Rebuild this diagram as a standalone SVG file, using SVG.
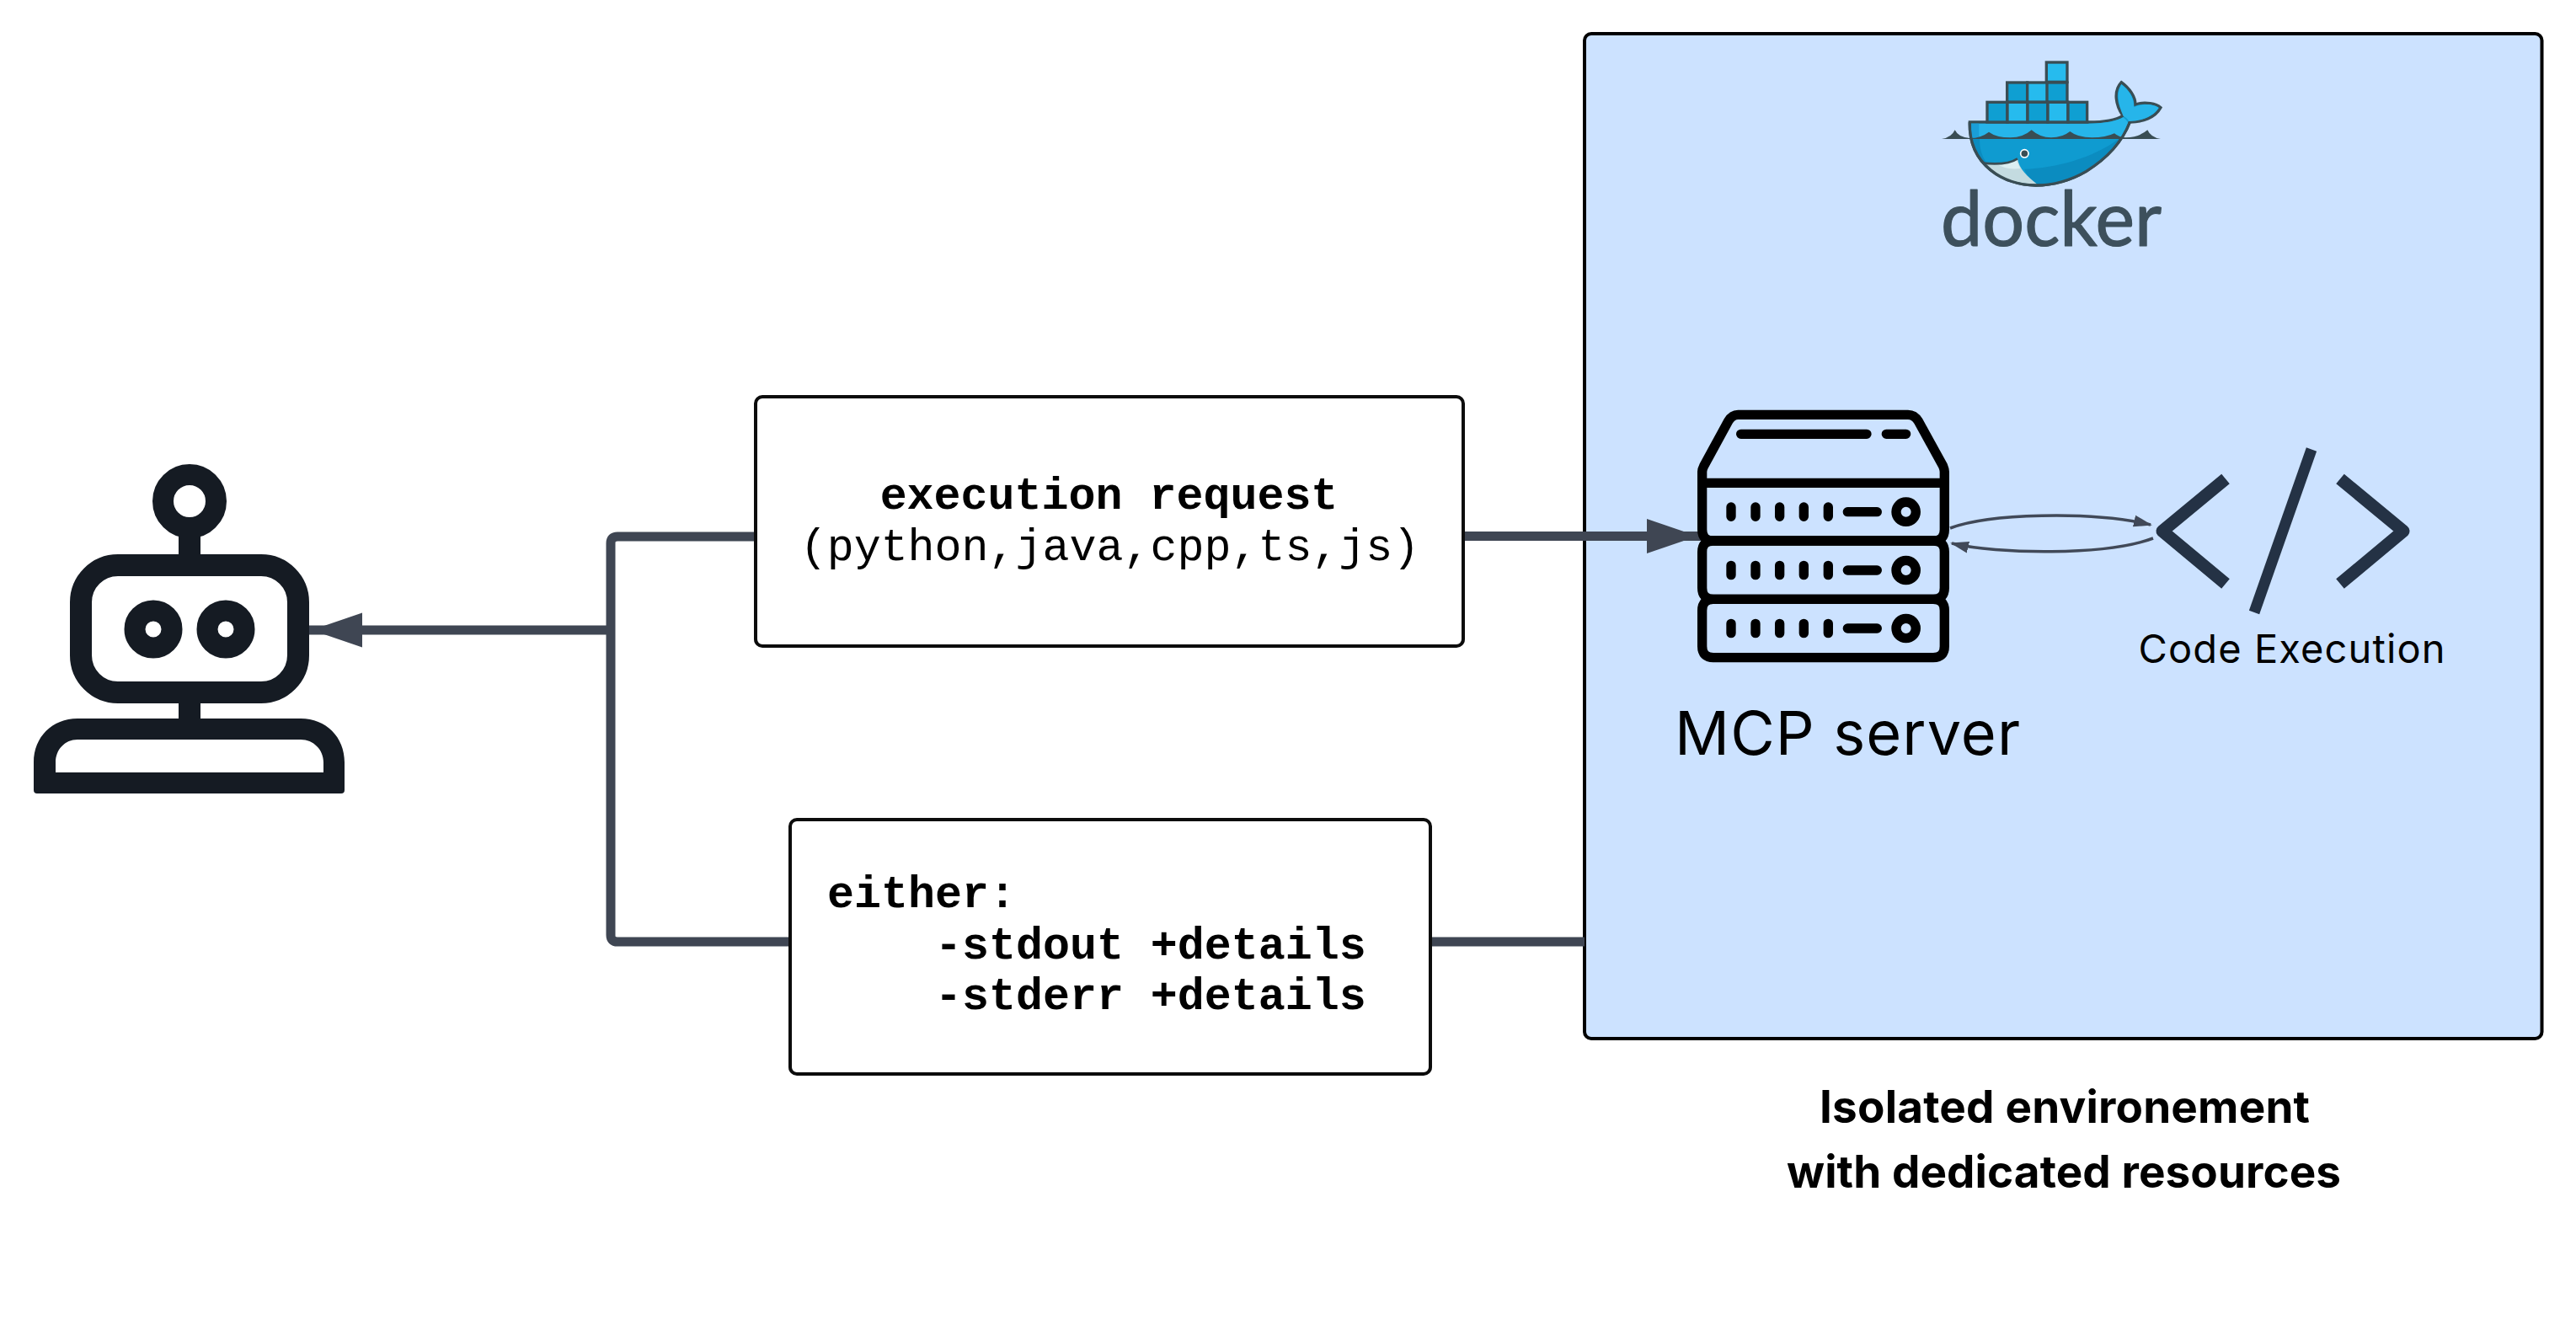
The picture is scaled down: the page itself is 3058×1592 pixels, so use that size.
<svg xmlns="http://www.w3.org/2000/svg" xmlns:xlink="http://www.w3.org/1999/xlink" width="3058" height="1592" viewBox="0 0 3058 1592">
<style>
.box{fill:#fff;stroke:#0c0c0c;stroke-width:4}
.mono{font-family:"Liberation Mono",monospace;font-size:53.300px;fill:#000;white-space:pre}
.b{font-weight:700}
.sans{font-family:Inter,"Liberation Sans",sans-serif;fill:#000}
.wire{fill:none;stroke:#3f4653;stroke-width:11}
.thin{fill:none;stroke:#414958;stroke-width:3.500}
.rb{fill:none;stroke:#151b23}
.sv{fill:none;stroke:#000;stroke-width:34;stroke-linecap:round;stroke-linejoin:round}
.code{fill:none;stroke:#243245;stroke-width:15}
.cell{stroke:#394d54;stroke-width:10}
.c1{fill:#0f9fd2}
.c2{fill:#26bbee}
</style>
<defs>
<marker id="big" markerUnits="userSpaceOnUse" markerWidth="70" markerHeight="44" refX="64" refY="21" orient="auto"><path d="M0 0.500L60 21L0 41.500Z" fill="#3f4653"/></marker>
<marker id="small" markerUnits="userSpaceOnUse" markerWidth="24" markerHeight="16" refX="20" refY="7.500" orient="auto"><path d="M0 0.500L22 7.500L0 14.500Z" fill="#414958"/></marker>
<g id="row">
<path d="M225 -17V17M312 -17V17M398 -17V17M484 -17V17M571 -17V17M640 0H745"/>
<circle cx="848" cy="0" r="35"/>
</g>
</defs>
<rect width="3058" height="1592" fill="#fff"/>

<g id="container"><rect x="1881" y="40" width="1136.500" height="1193" rx="8" fill="#cce2ff" stroke="#000" stroke-width="4"/></g>

<g id="connectors">
<path class="wire" d="M897 637H733Q725 637 725 645V1110Q725 1118 733 1118H938"/>
<path class="wire" d="M725 748H366" marker-end="url(#big)"/>
<path class="wire" d="M1737 636.500H2019" marker-end="url(#big)"/>
<path class="wire" d="M1698 1118H1881"/>
<path class="thin" d="M2315 627C2360 610 2480 606 2553 623" marker-end="url(#small)"/>
<path class="thin" d="M2556 639C2500 660 2370 658 2317 645" marker-end="url(#small)"/>
</g>

<g id="robot">
<circle class="rb" cx="225" cy="595" r="31.500" stroke-width="25"/>
<path class="rb" d="M225 630V665M225 830V860" stroke-width="26"/>
<rect class="rb" x="96" y="671" width="258" height="151" rx="44" stroke-width="26"/>
<circle class="rb" cx="182" cy="747" r="22" stroke-width="25"/>
<circle class="rb" cx="268" cy="747" r="22" stroke-width="25"/>
<path d="M40 938V905C40 875 62 853 92 853H357C387 853 409 875 409 905V938Q409 942 405 942H44Q40 942 40 938ZM66 917H384V905C384 890 372 878 357 878H92C77 878 66 890 66 905Z" fill="#151b23" fill-rule="evenodd"/>
</g>

<g id="request">
<rect class="box" x="897" y="471" width="840" height="296" rx="8"/>
<text class="mono b" x="1316.500" y="604" text-anchor="middle">execution request</text>
<text class="mono" x="1317.500" y="665" text-anchor="middle">(python,java,cpp,ts,js)</text>
</g>

<g id="response">
<rect class="box" x="938" y="973" width="760" height="302" rx="8"/>
<text class="mono b" x="982" y="1077">either:</text>
<text class="mono b" x="1110" y="1138">-stdout +details</text>
<text class="mono b" x="1110" y="1198">-stderr +details</text>
</g>

<g id="docker">
<g transform="translate(2270 50) scale(.3333)">
<path d="M205 285H628C690 285 730 275 750 262C725 225 715 175 745 143C775 165 795 195 795 222C830 210 870 220 885 233C865 270 820 285 775 285C750 350 700 410 620 460C560 495 500 510 440 510C330 510 200 440 205 285Z" fill="#0f9bd0" stroke="#394d54" stroke-width="10"/>
<path d="M210 290H628C690 290 730 280 752 268C765 280 770 285 768 290C760 310 750 330 742 345H212Z" fill="#26b5ea"/>
<path d="M210 290H238V345H212Z" fill="#1a9ed8"/>
<path d="M752 264C735 225 725 185 745 150C770 170 790 195 790 232C825 215 865 222 878 234C860 265 815 282 772 282C765 270 760 268 752 264Z" fill="#26b5ea"/>
<path d="M400 452C510 450 650 410 735 345C720 385 680 425 620 458C560 492 500 506 445 506C420 490 405 470 400 452Z" fill="#0b8cc0"/>
<path d="M212 345H240C240 380 250 410 262 425L250 430C225 405 212 375 212 345Z" fill="#0b8cc0"/>
<path d="M250 431C300 436 350 432 375 415C380 450 410 480 445 506C360 505 290 475 250 431Z" fill="#c4dbe0"/>
<path d="M300 433C330 431 355 426 372 419C375 430 380 440 385 450C350 455 320 447 300 433Z" fill="#dceff2"/>
<path d="M250 431C300 436 350 432 375 415" fill="none" stroke="#394d54" stroke-width="8"/>
<path d="M105 345Q140 340 152 313Q165 340 205 342Q245 342 273 320Q300 340 350 340Q395 340 425 313Q455 340 495 340Q535 340 562 318Q590 340 640 340Q690 340 720 325Q738 340 760 340Q810 338 838 313Q850 340 885 345Z" fill="#394d54"/>
<path d="M205 285C200 440 330 510 440 510C500 510 560 495 620 460C700 410 750 350 775 285" fill="none" stroke="#394d54" stroke-width="10"/>
<circle cx="400" cy="397" r="14" fill="#394d54" stroke="#fff" stroke-width="5"/>
<rect class="cell c2" x="478" y="72" width="74" height="70"/>
<rect class="cell c1" x="338" y="144" width="72" height="70"/>
<rect class="cell c2" x="410" y="144" width="72" height="70"/>
<rect class="cell c1" x="480" y="144" width="72" height="70"/>
<rect class="cell c1" x="267" y="214" width="72" height="71"/>
<rect class="cell c2" x="339" y="214" width="72" height="71"/>
<rect class="cell c1" x="411" y="214" width="72" height="71"/>
<rect class="cell c2" x="483" y="214" width="72" height="71"/>
<rect class="cell c1" x="555" y="214" width="68" height="71"/>
</g>
<text x="2304" y="292" font-family="Lato,'DejaVu Sans',sans-serif" font-size="91" fill="#3d505c" stroke="#3d505c" stroke-width="1.200" stroke-linejoin="round" textLength="262" lengthAdjust="spacingAndGlyphs">docker</text>
</g>

<g id="mcp-server">
<g transform="translate(1980 470) scale(.3333)" class="sv">
<path d="M122 310V270Q122 262 128 250L215 90Q228 67 250 67H855Q878 67 892 90L980 250Q985 262 985 270V310"/>
<path d="M260 136H708M778 136H848"/>
<path d="M122 310H985V476Q985 516 945 516H162Q122 516 122 476Z"/>
<path d="M162 516H945Q985 516 985 556V684Q985 724 945 724H162Q122 724 122 684V556Q122 516 162 516Z"/>
<path d="M162 724H945Q985 724 985 764V892Q985 932 945 932H162Q122 932 122 892V764Q122 724 162 724Z"/>
<use xlink:href="#row" href="#row" y="413"/>
<use xlink:href="#row" href="#row" y="621"/>
<use xlink:href="#row" href="#row" y="828"/>
</g>
<text class="sans" x="1988" y="896" font-size="72" textLength="410">MCP server</text>
</g>

<g id="code-execution">
<path class="code" d="M2642 568.500L2567 630.500L2642 693" stroke-linejoin="round"/>
<path class="code" d="M2778 568.500L2853 630.500L2778 693" stroke-linejoin="round"/>
<path class="code" d="M2744 533.500L2676 727" style="stroke-width:13"/>
<text class="sans" x="2538.500" y="787" font-size="47" textLength="364">Code Execution</text>
</g>

<g id="caption">
<text class="sans" x="2451" y="1333" font-size="53" font-weight="700" text-anchor="middle" textLength="582">Isolated environement</text>
<text class="sans" x="2450" y="1410" font-size="53" font-weight="700" text-anchor="middle" textLength="658">with dedicated resources</text>
</g>
</svg>
